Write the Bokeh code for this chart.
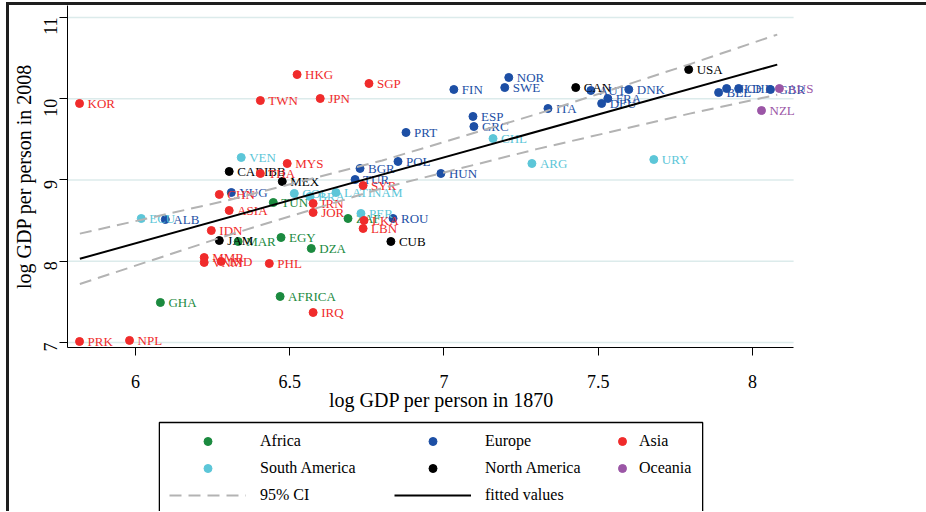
import math
from bokeh.plotting import figure
from bokeh.layouts import column
from bokeh.models import Range1d, FixedTicker, Legend, LegendItem, BoxAnnotation
from bokeh.core.properties import value
from bokeh.embed import file_html
from bokeh.resources import INLINE

FONT = "Liberation Serif"

# ---------------- data (log GDP per person 1870 vs 2008) ----------------
africa_codes = ["TUN", "EGY", "DZA", "ZAF", "MAR", "GHA", "AFRICA"]
africa_x = [6.447, 6.472, 6.570, 6.689, 6.333, 6.081, 6.469]
africa_y = [8.723, 8.292, 8.157, 8.526, 8.243, 7.492, 7.566]

europe_codes = ["YUG", "ALB", "BGR", "POL", "HUN", "TUR", "ROU", "PRT", "FIN", "NOR",
                "SWE", "ESP", "GRC", "ITA", "AUT", "DEU", "FRA", "DNK", "BEL", "NLD",
                "CHE", "GBR"]
europe_x = [6.311, 6.097, 6.728, 6.851, 6.990, 6.712, 6.835, 6.877, 7.032, 7.210,
            7.197, 7.094, 7.097, 7.337, 7.476, 7.511, 7.531, 7.599, 7.890, 7.916,
            7.955, 8.058]
europe_y = [8.846, 8.514, 9.142, 9.228, 9.080, 9.006, 8.526, 9.585, 10.114, 10.262,
            10.138, 9.782, 9.658, 9.880, 10.102, 9.942, 10.003, 10.114, 10.077, 10.126,
            10.126, 10.114]

asia_codes = ["KOR", "PRK", "NPL", "TWN", "HKG", "JPN", "SGP", "MYS", "THA", "CHN",
              "ASIA", "IDN", "MMR", "VNM", "IND", "PHL", "IRQ", "SYR", "IRN", "JOR",
              "LKA", "LBN"]
asia_x = [5.819, 5.819, 5.981, 6.405, 6.524, 6.599, 6.757, 6.492, 6.405, 6.272,
          6.304, 6.246, 6.223, 6.223, 6.278, 6.434, 6.576, 6.738, 6.576, 6.576,
          6.741, 6.738]
asia_y = [9.942, 7.012, 7.025, 9.978, 10.298, 10.003, 10.188, 9.203, 9.080, 8.822,
          8.625, 8.378, 8.046, 7.985, 7.997, 7.972, 7.369, 8.932, 8.711, 8.600,
          8.502, 8.403]

samerica_codes = ["VEN", "ECU", "COL", "BRA", "LATINAM", "PER", "CHL", "ARG", "URY"]
samerica_x = [6.343, 6.019, 6.515, 6.566, 6.650, 6.731, 7.159, 7.285, 7.680]
samerica_y = [9.277, 8.526, 8.834, 8.797, 8.846, 8.588, 9.510, 9.203, 9.252]

namerica_codes = ["CARIBB", "MEX", "JAM", "CUB", "CAN", "USA"]
namerica_x = [6.304, 6.476, 6.272, 6.828, 7.427, 7.793]
namerica_y = [9.105, 8.982, 8.255, 8.243, 10.138, 10.360]

oceania_codes = ["AUS", "NZL"]
oceania_x = [8.087, 8.029]
oceania_y = [10.126, 9.855]

# fitted values and 95% CI
fit_x = [5.82, 8.08]
fit_y = [8.03, 10.42]
ci_x = [5.82, 6.3, 6.8, 7.3, 7.8, 8.08]
ci_upper = [8.34, 8.75, 9.24, 9.81, 10.43, 10.79]
ci_lower = [7.72, 8.32, 8.90, 9.38, 9.82, 10.05]

x_ticks = [6, 6.5, 7, 7.5, 8]
x_tick_labels = ["6", "6.5", "7", "7.5", "8"]
y_ticks = [7, 8, 9, 10, 11]
y_tick_labels = ["7", "8", "9", "10", "11"]

region_names = ["Africa", "Europe", "Asia", "South America", "North America", "Oceania"]
region_colors = ["#1b8a3f", "#1d4fa5", "#f02b2b", "#5cc6d8", "#000000", "#9b56a6"]
region_codes = [africa_codes, europe_codes, asia_codes, samerica_codes, namerica_codes, oceania_codes]
region_xs = [africa_x, europe_x, asia_x, samerica_x, namerica_x, oceania_x]
region_ys = [africa_y, europe_y, asia_y, samerica_y, namerica_y, oceania_y]
draw_order = ["Africa", "Europe", "South America", "North America", "Asia", "Oceania"]

CI_COLOR = "#b3b3b3"
CI_DASH = "12 7"
W = 917
BL, BR = 57, 111
X_LO, X_HI = 5.780, 8.133      # extent of the drawn x axis / grid lines
X_END = 8.204                  # frame goes a bit further so edge labels are not cut

# ---------------- main scatter figure ----------------
p = figure(width=W, height=410, output_backend="svg", toolbar_location=None,
           x_range=Range1d(X_LO, X_END), y_range=Range1d(6.938, 11.148),
           min_border_left=BL, min_border_right=BR, min_border_top=0,
           min_border_bottom=68)
p.outline_line_color = None
p.background_fill_color = "white"
p.border_fill_color = "white"

p.xgrid.visible = False
p.ygrid.visible = False
p.segment(x0=[X_LO] * len(y_ticks), y0=y_ticks, x1=[X_HI] * len(y_ticks), y1=y_ticks,
          line_color="#dcebeb", line_width=1.5, level="underlay")

p.xaxis.ticker = FixedTicker(ticks=x_ticks)
p.yaxis.ticker = FixedTicker(ticks=y_ticks)
p.xaxis.major_label_overrides = dict(zip(x_ticks, x_tick_labels))
p.yaxis.major_label_overrides = dict(zip(y_ticks, y_tick_labels))
p.xaxis.bounds = (X_LO, X_HI)
for ax in (p.xaxis, p.yaxis):
    ax.axis_line_color = "black"
    ax.axis_line_width = 1
    ax.major_tick_line_color = "black"
    ax.major_tick_out = 8
    ax.major_tick_in = 0
    ax.minor_tick_line_color = None
    ax.major_label_text_font = FONT
    ax.major_label_text_font_size = "18px"
    ax.major_label_text_color = "black"
    ax.axis_label_text_font = FONT
    ax.axis_label_text_font_size = "20px"
    ax.axis_label_text_font_style = "normal"
    ax.axis_label_text_color = "black"
p.xaxis.axis_label = "log GDP per person in 1870"
p.yaxis.axis_label = "log GDP per person in 2008"
p.yaxis.major_label_orientation = math.pi / 2
p.xaxis.major_label_standoff = 19
p.xaxis.axis_label_standoff = -2
p.yaxis.major_label_standoff = 9
p.yaxis.axis_label_standoff = 0

for name in draw_order:
    i = region_names.index(name)
    color = region_colors[i]
    xs, ys, codes = region_xs[i], region_ys[i], region_codes[i]
    p.scatter(x=xs, y=ys, size=8, marker="circle", fill_color=color, line_color=color)
    p.text(x=xs, y=ys, text=codes, x_offset=8, text_baseline="middle",
           text_align="left", text_color=color, text_font=value(FONT),
           text_font_size="13px")

p.line(x=ci_x, y=ci_upper, line_color=CI_COLOR, line_width=2, line_dash=CI_DASH)
p.line(x=ci_x, y=ci_lower, line_color=CI_COLOR, line_width=2, line_dash=CI_DASH)
p.line(x=fit_x, y=fit_y, line_color="black", line_width=2)

# ---------------- legend panel ----------------
LH = 96
# ranges chosen so that one data unit is one canvas pixel (legend layout only)
lf = figure(width=W, height=LH, output_backend="svg", toolbar_location=None,
            x_range=Range1d(BL, W - BR), y_range=Range1d(LH, 0),
            x_axis_location=None, y_axis_location=None,
            min_border_left=BL, min_border_right=BR, min_border_top=0,
            min_border_bottom=0)
lf.outline_line_color = None
lf.grid.visible = False

box = BoxAnnotation(left=149, right=693, top=7, bottom=LH + 60,
                    fill_alpha=0, line_color="black", line_width=1.3, line_alpha=1)
lf.add_layout(box)

# legend keys reuse the series (they fall outside this panel's visible frame)
key = {}
for i, name in enumerate(region_names):
    color = region_colors[i]
    key[name] = lf.scatter(x=region_xs[i], y=region_ys[i], size=8, marker="circle",
                           fill_color=color, line_color=color)
key_ci = lf.line(x=ci_x, y=ci_upper, line_color=CI_COLOR, line_width=2, line_dash=CI_DASH)
key_fit = lf.line(x=fit_x, y=fit_y, line_color="black", line_width=2)


def make_legend(items, vx, vy, gw, standoff):
    leg = Legend(items=items, location=(vx, vy), orientation="vertical",
                 glyph_width=gw, glyph_height=20, label_standoff=standoff,
                 spacing=7, padding=0, margin=0, label_height=20,
                 border_line_alpha=0, background_fill_alpha=0,
                 label_text_font=FONT, label_text_font_size="16px",
                 label_text_color="black")
    lf.add_layout(leg)


make_legend([LegendItem(label="Africa", renderers=[key["Africa"]]),
             LegendItem(label="South America", renderers=[key["South America"]]),
             LegendItem(label="95% CI", renderers=[key_ci])], 102, LH - 90, 77, 14)
make_legend([LegendItem(label="Europe", renderers=[key["Europe"]]),
             LegendItem(label="North America", renderers=[key["North America"]]),
             LegendItem(label="fitted values", renderers=[key_fit])], 327, LH - 90, 77, 14)
make_legend([LegendItem(label="Asia", renderers=[key["Asia"]]),
             LegendItem(label="Oceania", renderers=[key["Oceania"]])], 545, LH - 63, 20, 7)

layout = column(p, lf, spacing=0,
                styles={"margin-left": "6px", "margin-top": "2px",
                        "border-top": "3px solid #1e1e1e",
                        "border-left": "3px solid #1e1e1e"})

open("out.html", "w").write(file_html(layout, INLINE))
